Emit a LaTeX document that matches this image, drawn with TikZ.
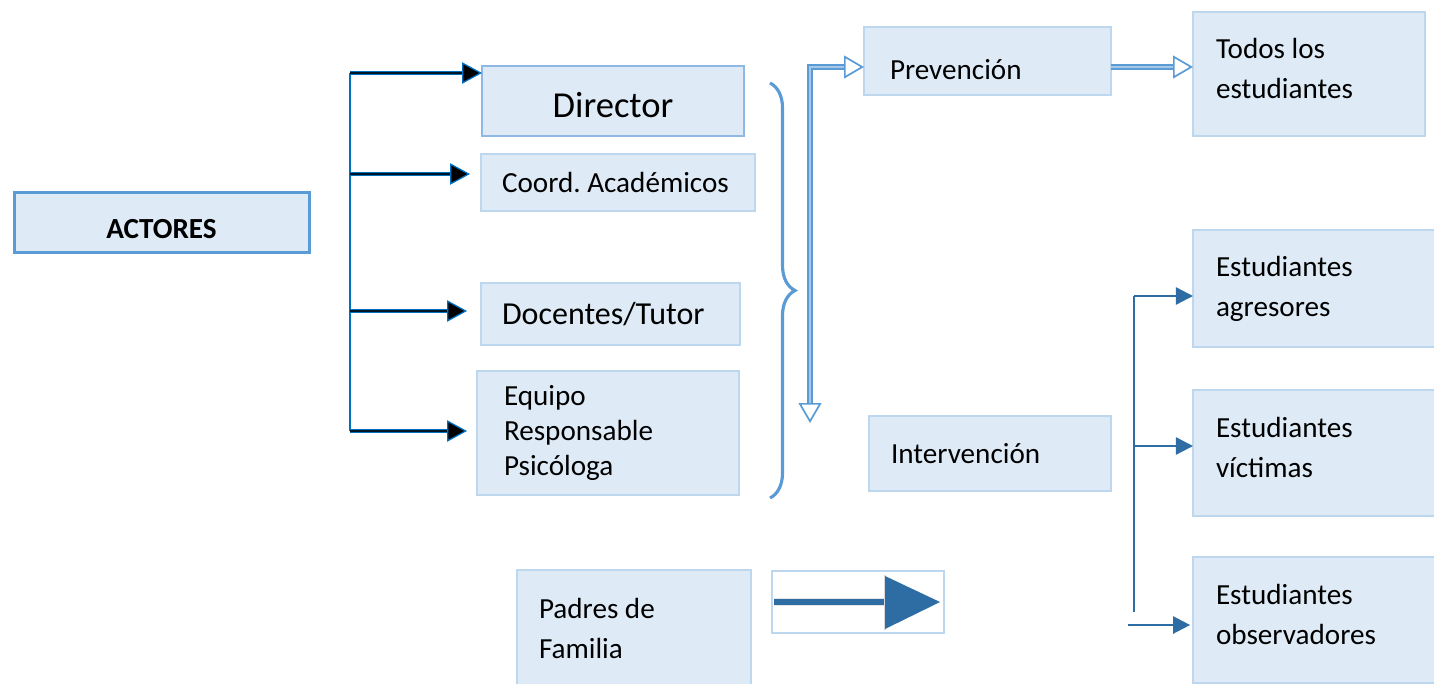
\documentclass[tikz,border=0pt]{standalone}
\usepackage{fontspec}
\setmainfont{Carlito}
\definecolor{cajafondo}{HTML}{DEEBF7}
\definecolor{cajaborde}{HTML}{BDD7EE}
\definecolor{azulclaro}{HTML}{8FB8E2}
\definecolor{azulmedio}{HTML}{5B9BD5}
\definecolor{azulfuerte}{HTML}{0070C0}
\definecolor{azuloscuro}{HTML}{2E6DA4}
\usetikzlibrary{arrows.meta,positioning,calc,decorations.pathreplacing}
\newcommand{\pxu}{0.35pt}

\begin{document}
\begin{tikzpicture}[x=0.35pt,y=-0.35pt,
    font=\fontsize{10.2}{14}\selectfont,
    every node/.style={outer sep=0pt},
    caja/.style n args={3}{draw=cajaborde,fill=cajafondo,line width=0.7pt,anchor=north west,
        inner ysep=0pt,inner xsep=#3*\pxu,minimum width=#1*\pxu,minimum height=#2*\pxu,
        text width=#1*\pxu-2*#3*\pxu,align=flush left},
    tronco/.style={draw=azulfuerte,line width=0.7pt},
    rama/.style={draw=azulfuerte,line width=0.45pt,double=black!80!azulfuerte,double distance=0.5pt,
        -{Triangle[length=7pt,width=7.5pt,fill=black]}},
    doble/.style={draw=azulmedio,line width=0.6pt,double=azulmedio!55,double distance=0.6pt},
    punta/.style={-{Triangle[open,length=7pt,width=8pt]}},
    llave/.style={draw=azulmedio,line width=1.1pt,decorate,decoration={brace,amplitude=8.75pt}},
    troncoderecho/.style={draw=azuloscuro,line width=0.6pt},
    ramaderecha/.style={draw=azuloscuro,line width=0.8pt,-{Triangle[length=6pt,width=6pt]}}
    ]
    \useasboundingbox (0,0) rectangle (1434,683);

    % actores
    \node[caja={295}{60}{10},align=center,draw=azulmedio,line width=1.05pt,
        font=\fontsize{10.2}{14}\selectfont\bfseries,text height=11.5pt,text depth=0pt] (actores) at (14,192) {ACTORES};
    \node[caja={262}{70}{10},align=center,draw=azulclaro,font=\fontsize{12.8}{15}\selectfont,
        text height=11.8pt,text depth=0pt] (director) at (482,66) {Director};
    \node[caja={274}{57}{21}] (coord) at (481,154) {Coord.~Académicos};
    \node[caja={259}{62}{21},font=\fontsize{11.2}{14}\selectfont] (docentes) at (481,283) {Docentes/Tutor};
    \node[caja={262}{124}{27},font=\fontsize{10.2}{12.4}\selectfont] (equipo) at (477,371) {Equipo\\Responsable\\Psicóloga};
    \node[caja={234}{116}{22}] (padres) at (517,570) {Padres de\\Familia};

    % prevencion e intervencion
    \node[caja={247}{68}{26},text height=12.9pt,text depth=0pt] (prevencion) at (864,27) {Prevención};
    \node[caja={242}{75}{22}] (intervencion) at (869,416) {Intervención};

    % estudiantes
    \node[caja={232}{124}{23},text depth=18pt] (todos) at (1193,12) {Todos los\\estudiantes};
    \node[caja={250}{117}{23}] (agresores) at (1193,230) {Estudiantes\\agresores};
    \node[caja={250}{126}{23},text depth=18pt] (victimas) at (1193,390) {Estudiantes\\víctimas};
    \node[caja={250}{126}{23},text depth=18pt] (observadores) at (1193,557) {Estudiantes\\observadores};

    % las ramas de actores
    \coordinate (ramaA) at (350,73);
    \coordinate (ramaB) at (350,174);
    \coordinate (ramaC) at (350,311);
    \coordinate (ramaD) at (350,431);
    \draw[tronco] (ramaA) -- (ramaD);
    \draw[rama] (ramaA) -- (ramaA -| director.west);
    \draw[rama,shorten >=3.85pt] (ramaB) -- (ramaB -| coord.west);
    \draw[rama,shorten >=4.9pt] (ramaC) -- (ramaC -| docentes.west);
    \draw[rama,shorten >=3.5pt] (ramaD) -- (ramaD -| equipo.west);

    % la llave
    \coordinate (llaveArriba) at (770,83);
    \coordinate (llaveAbajo) at (770,498);
    \draw[llave] (llaveArriba) -- (llaveAbajo);

    % flechas dobles
    \coordinate (codo) at (810,67);
    \coordinate (bajada) at (810,423);
    \draw[doble,{Triangle[open,length=7pt,width=8pt]}-{Triangle[open,length=7pt,width=8pt]}]
        (bajada) -- (codo) -- (codo -| prevencion.west);
    \draw[doble,punta] (codo -| prevencion.east) -- (codo -| todos.west);

    % flecha de padres
    \node[draw=cajaborde,fill=white,line width=0.5pt,anchor=north west,
        minimum width=172*\pxu,minimum height=62*\pxu] (flechapadres) at (772,571) {};
    \draw[black!10,line width=3pt] (774,602) -- (885,602);
    \draw[azuloscuro,line width=2.2pt] (774,602) -- (885,602);
    \draw[black!15,line width=0.6pt] (885,575) -- (885,630);
    \fill[azuloscuro] (885,576) -- (885,629) -- (940,602) -- cycle;

    % ramas de estudiantes
    \coordinate (derA) at (1134,296);
    \coordinate (derB) at (1134,446);
    \coordinate (derFin) at (1134,612);
    \coordinate (derC) at (1128,625);
    \draw[troncoderecho] (derA) -- (derFin);
    \draw[ramaderecha] (derA) -- (derA -| agresores.west);
    \draw[ramaderecha] (derB) -- (derB -| victimas.west);
    \draw[ramaderecha,shorten >=1pt] (derC) -- (derC -| observadores.west);

\end{tikzpicture}
\end{document}
